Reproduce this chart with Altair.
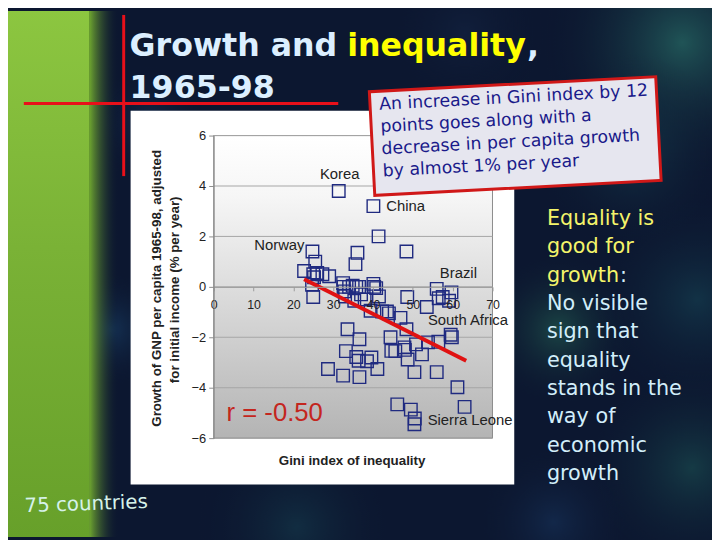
import altair as alt
import pandas as pd

# ---------------- data ----------------
gini = [31.4, 40.1, 41.4, 48.4, 24.8, 25.5, 36.1, 35.6,
        22.7, 25.0, 26.0, 27.3, 29.0, 25.2, 24.7,
        32.5, 32.6, 34.0, 34.9, 35.8, 36.5, 40.1, 40.3, 40.8,
        25.0, 32.8, 33.0, 35.3, 37.9, 41.5, 48.6,
        56.0, 56.5, 57.5, 59.7, 59.1, 53.5,
        39.4, 42.3, 43.5, 44.0, 46.9,
        33.6, 36.6, 44.4, 48.4, 45.6, 47.9, 48.0, 48.7,
        50.8, 52.3, 53.8, 56.4, 59.5, 59.8,
        33.2, 35.8, 36.4, 38.5, 39.6, 41.1, 28.7, 32.5, 36.6,
        50.4, 56.0, 61.2, 63.0, 46.1, 49.5, 50.5, 50.4,
        44.6, 37.0]
growth = [3.8, 3.2, 2.0, 1.4, 1.4, 1.0, 1.35, 0.9,
          0.63, 0.5, 0.55, 0.5, 0.42, 0.38, 0.08,
          0.15, 0.0, 0.0, 0.05, 0.0, 0.0, 0.12, 0.0, -0.05,
          -0.4, -0.18, -0.38, -0.55, -0.5, -0.38, -0.4,
          -0.08, -0.45, -0.4, -0.22, -0.55, -0.8,
          -0.95, -0.98, -0.98, -1.05, -1.23,
          -1.68, -2.08, -2.0, -1.68, -2.55, -2.4, -2.5, -2.88,
          -2.28, -2.68, -2.2, -2.18, -1.9, -2.0,
          -2.55, -2.78, -2.93, -2.95, -2.8, -3.26, -3.26, -3.52, -3.58,
          -3.38, -3.38, -3.98, -4.76, -4.66, -4.87, -5.22, -5.45,
          -2.54, -0.3]

label_country = ["Korea", "China", "Norway", "Brazil", "South Africa", "Sierra Leone"]
label_gini = [31.4, 40.1, 24.8, 59.7, 59.5, 50.5]
label_growth = [3.8, 3.2, 1.4, -0.22, -1.9, -5.22]

fit_gini = [22.7, 63.4]
fit_growth = [0.30, -2.93]

x_ticks = [0, 10, 20, 30, 40, 50, 60, 70]
y_ticks = [-6, -4, -2, 0, 2, 4, 6]

title_a = "Growth and"
title_b = "inequality"
title_c = ","
title_l2 = "1965-98"
box_lines = ["An increase in Gini index by 12",
             "points goes along with a",
             "decrease in per capita growth",
             "by almost 1% per year"]
side_yellow = ["Equality is", "good for", "growth"]
side_colon = ":"
side_plain = ["No visible", "sign that", "equality", "stands in the",
              "way of", "economic", "growth"]
x_title = "Gini index of inequality"
y_title_1 = "Growth of GNP per capita 1965-98, adjusted"
y_title_2 = "for initial income (% per year)"
r_text = "r = -0.50"
n_text = "75 countries"

# ---------------- layout helpers ----------------
W, H = 712, 532


def P(v):  # page pixel -> chart pixel (page has 8px margin)
    return v - 8


X0, X1 = P(216), P(498)
YT, YB = P(134), P(440)
XS = alt.Scale(domain=[0, 70], range=[X0, X1], nice=False, zero=False)
YS = alt.Scale(domain=[-6, 6], range=[YB, YT], nice=False, zero=False)

one = pd.DataFrame({"k": [0]})


def rect(x, x2, y, y2, **kw):
    return alt.Chart(one).mark_rect(**kw).encode(
        x=alt.value(x), x2=alt.value(x2), y=alt.value(y), y2=alt.value(y2))


def text(s, x, y, **kw):
    return alt.Chart(one).mark_text(text=s, **kw).encode(x=alt.value(x), y=alt.value(y))


def lin(stops, x1=0, y1=0, x2=0, y2=1):
    return {"gradient": "linear", "x1": x1, "y1": y1, "x2": x2, "y2": y2,
            "stops": [{"offset": o, "color": c} for o, c in stops]}


def rad(c_in, c_out):
    return {"gradient": "radial", "x1": 0.5, "y1": 0.5, "r1": 0,
            "x2": 0.5, "y2": 0.5, "r2": 0.5,
            "stops": [{"offset": 0, "color": c_in}, {"offset": 1, "color": c_out}]}


layers = []

# background blobs (soft)
blobs = [(690, 40, 140, "rgba(45,125,112,0.6)"),
         (640, 150, 100, "rgba(30,90,100,0.4)"),
         (565, 330, 80, "rgba(45,125,95,0.45)"),
         (705, 300, 110, "rgba(30,100,110,0.35)"),
         (700, 470, 110, "rgba(35,110,100,0.4)"),
         (560, 525, 80, "rgba(30,70,120,0.35)"),
         (112, 330, 60, "rgba(30,80,125,0.45)"),
         (300, 530, 100, "rgba(30,95,105,0.3)"),
         (150, 120, 60, "rgba(30,70,115,0.35)"),
         (470, 30, 80, "rgba(25,45,80,0.35)")]
for cx, cy, r, c in blobs:
    layers.append(rect(P(cx - r), P(cx + r), P(cy - r), P(cy + r),
                       fill=rad(c, "rgba(12,23,48,0)")))

# green band on the left
layers.append(rect(0, P(90), 0, H,
                   fill=lin([(0, "#8cc640"), (0.45, "#7ab236"), (1, "#67a02a")])))
layers.append(rect(P(90), P(120), 0, H,
                   fill=lin([(0, "#70a82f"), (1, "rgba(12,23,48,0)")], x1=0, y1=0, x2=1, y2=0)))

# red decorative lines
layers.append(rect(P(123.5), P(126.5), P(12), P(175), fill="#e8101a"))
layers.append(rect(P(24), P(342), P(100), P(103), fill="#e8101a"))

# title (mixed colours, separate pieces)
tfont = dict(font="DejaVu Sans", fontWeight="bold", fontSize=32, align="left", baseline="alphabetic")
layers.append(text(title_a, P(131), P(54), color="#dcefff", **tfont))
layers.append(text(title_b, P(351), P(54), color="#ffff00", **tfont))
layers.append(text(title_c, P(533), P(54), color="#dcefff", **tfont))
layers.append(text(title_l2, P(131), P(95.5), color="#dcefff", **tfont))

# white chart panel and plot area
layers.append(rect(P(132), P(520), P(109), P(487), fill="white"))
layers.append(rect(X0, X1, YT, YB,
                   fill=lin([(0, "#ffffff"), (0.2, "#f6f6f6"), (1, "#b4b4b4")]),
                   stroke="#8c8c8c", strokeWidth=1))

# gridlines
layers.append(alt.Chart(pd.DataFrame({"growth": y_ticks})).mark_rule(
    color="#a6a6a6", strokeWidth=1).encode(
    y=alt.Y("growth:Q", scale=YS), x=alt.value(X0), x2=alt.value(X1)))

# scatter points with axes
pts = pd.DataFrame({"gini": gini, "growth": growth})
xaxis = alt.Axis(values=x_ticks, orient="bottom", offset=-(H - P(287)), grid=False,
                 domain=True, domainColor="#9a9a9a", tickColor="#9a9a9a", tickSize=4,
                 labelPadding=8, labelFont="Liberation Sans", labelFontSize=12.5,
                 labelColor="#222222", labelFlush=False, labelOverlap=False,
                 title=None, zindex=1)
yaxis = alt.Axis(values=y_ticks, orient="left", offset=-X0, grid=False,
                 domain=True, domainColor="#8c8c8c", tickColor="#8c8c8c", tickSize=5,
                 labelPadding=3, labelFont="Liberation Sans", labelFontSize=13,
                 labelColor="#222222", title=None, zindex=1)
layers.append(alt.Chart(pts).mark_point(
    shape="square", filled=False, size=160, strokeWidth=1.4, color="#1f2a80", opacity=1).encode(
    x=alt.X("gini:Q", scale=XS, axis=xaxis),
    y=alt.Y("growth:Q", scale=YS, axis=yaxis)))

# regression line
layers.append(alt.Chart(pd.DataFrame({"gini": fit_gini, "growth": fit_growth})).mark_line(
    color="#e01212", strokeWidth=4).encode(
    x=alt.X("gini:Q", scale=XS), y=alt.Y("growth:Q", scale=YS)))

# country labels
lab = pd.DataFrame({"country": label_country, "gini": label_gini, "growth": label_growth})
lab_style = {"Korea": ("center", 1, -17), "China": ("left", 13, 0),
             "Norway": ("right", -8, -7), "Brazil": ("center", 7, -20),
             "South Africa": ("left", -23, -15), "Sierra Leone": ("left", 13, 2)}
for name, (al, dx, dy) in lab_style.items():
    layers.append(alt.Chart(lab).transform_filter(alt.datum.country == name).mark_text(
        align=al, baseline="middle", dx=dx, dy=dy, font="Liberation Sans",
        fontSize=15, color="#222222").encode(
        x=alt.X("gini:Q", scale=XS), y=alt.Y("growth:Q", scale=YS), text="country:N"))

# r text and axis titles
layers.append(text(r_text, P(229), P(415), align="left", baseline="middle",
                   font="Liberation Sans", fontSize=26, color="#c4261e"))
layers.append(text(x_title, P(356), P(463), align="center", baseline="middle",
                   font="Liberation Sans", fontWeight="bold", fontSize=13.5, color="#222222"))
layers.append(text(y_title_1, P(158.5), P(288.5), align="center", baseline="middle", angle=270,
                   font="Liberation Sans", fontWeight="bold", fontSize=13.5, color="#222222"))
layers.append(text(y_title_2, P(176.5), P(290), align="center", baseline="middle", angle=270,
                   font="Liberation Sans", fontWeight="bold", fontSize=13.5, color="#222222"))

# annotation box (rotated rectangle as custom symbol)
bw, bh = 290, 105
path = "M-1,-{h}L1,-{h}L1,{h}L-1,{h}Z".format(h=round(bh / bw, 4))
layers.append(alt.Chart(one).mark_point(
    shape=path, size=bw * bw, angle=357, filled=True, fill="#e6e6ef",
    stroke="#d01818", strokeWidth=3, opacity=1).encode(
    x=alt.value(P(521)), y=alt.value(P(134.5))))
layers.append(text(box_lines, P(383), P(94), align="left", baseline="top", angle=357,
                   lineHeight=22.5, font="DejaVu Sans", fontSize=17.5, color="#1a1a8a"))

# side text
sfont = dict(align="left", baseline="alphabetic", lineHeight=28.7, font="DejaVu Sans", fontSize=21)
layers.append(text(side_yellow, P(553), P(224.3), color="#f4f46a", **sfont))
layers.append(text(side_colon, P(627), P(224.3 + 2 * 28.7), color="#d2eefa", **sfont))
layers.append(text(side_plain, P(553), P(224.3 + 3 * 28.7), color="#d2eefa", **sfont))

# 75 countries
layers.append(text(n_text, P(25), P(515), align="left", baseline="alphabetic", angle=358,
                   font="DejaVu Sans", fontSize=20, color="#d6f2ea"))

chart = alt.layer(*layers).properties(
    width=W, height=H, background="#0c1730",
    autosize=alt.AutoSizeParams(type="none"), padding=0
).configure_view(strokeWidth=0)

chart.save("out.html", embed_options={"renderer": "svg", "actions": False})
